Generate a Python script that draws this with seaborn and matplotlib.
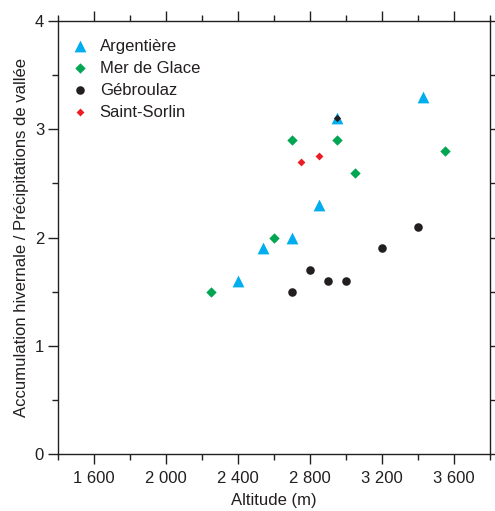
import matplotlib
matplotlib.use("Agg")
import matplotlib.pyplot as plt
import seaborn as sns
import pandas as pd
from matplotlib.ticker import MultipleLocator, FuncFormatter

sns.set_style("white")
plt.rcParams['font.family'] = ['Liberation Sans', 'DejaVu Sans']

# Data
arg_alt = [2400, 2540, 2700, 2850, 2950, 3430]
arg_val = [1.6, 1.9, 2.0, 2.3, 3.1, 3.3]
mdg_alt = [2250, 2600, 2700, 2950, 3050, 3550]
mdg_val = [1.5, 2.0, 2.9, 2.9, 2.6, 2.8]
geb_alt = [2700, 2800, 2900, 3000, 3200, 3400]
geb_val = [1.5, 1.7, 1.6, 1.6, 1.9, 2.1]
geb_overlap_alt = [2950]
geb_overlap_val = [3.1]
ss_alt = [2750, 2850]
ss_val = [2.7, 2.75]

series = [
    ("Argentière", arg_alt, arg_val, "^", "#00AEEF", 72),
    ("Mer de Glace", mdg_alt, mdg_val, "D", "#00A651", 28),
    ("Gébroulaz", geb_alt, geb_val, "o", "#231F20", 38),
    ("Saint-Sorlin", ss_alt, ss_val, "D", "#ED1C24", 16),
]

fig = plt.figure(figsize=(4.95, 5.11), dpi=100)
ax = fig.add_axes([58/495, 1-454/511, (490-58)/495, (454-21)/511])

for name, xs, ys, m, c, s in series:
    df = pd.DataFrame({"alt": xs, "val": ys})
    sns.scatterplot(data=df, x="alt", y="val", marker=m, color=c, s=s,
                    linewidth=0, ax=ax, label=name, zorder=3)
df_o = pd.DataFrame({"alt": geb_overlap_alt, "val": geb_overlap_val})
sns.scatterplot(data=df_o, x="alt", y="val", marker="D", color="#231F20", s=14,
                linewidth=0, ax=ax, zorder=4, legend=False)

ax.set_xlim(1400, 3800)
ax.set_ylim(0, 4)
ax.xaxis.set_major_locator(MultipleLocator(400))
ax.xaxis.set_minor_locator(MultipleLocator(200))
ax.yaxis.set_major_locator(MultipleLocator(1))
ax.yaxis.set_minor_locator(MultipleLocator(0.5))
ax.xaxis.set_major_formatter(FuncFormatter(lambda v, p: f"{int(v):,}".replace(",", " ")))
ax.set_xticks([1600, 2000, 2400, 2800, 3200, 3600])

for sp in ax.spines.values():
    sp.set_color("#231F20")
    sp.set_linewidth(1.0)

ax.tick_params(axis="x", which="major", direction="out", length=7, width=1,
               color="#231F20", labelsize=12, labelcolor="#231F20", top=True, bottom=True, pad=5)
ax.tick_params(axis="x", which="minor", direction="out", length=4.5, width=1,
               color="#231F20", top=True, bottom=True)
ax.tick_params(axis="y", which="major", direction="out", length=7, width=1,
               color="#231F20", labelsize=12, labelcolor="#231F20", left=True, pad=3)
ax.tick_params(axis="y", which="minor", direction="out", length=4.5, width=1,
               color="#231F20", left=True)
ax.tick_params(axis="y", which="both", right=True)

ax.set_xlabel("Altitude (m)", fontsize=12, color="#231F20", labelpad=5)
ax.set_ylabel("Accumulation hivernale / Précipitations de vallée", fontsize=12,
              color="#231F20", labelpad=4)

leg = ax.legend(loc="upper left", frameon=False, fontsize=12, handletextpad=0.6,
                labelspacing=0.42, borderaxespad=0.3, handlelength=1.2,
                bbox_to_anchor=(0.0, 0.986))
for t in leg.get_texts():
    t.set_color("#231F20")

fig.savefig("out.png", dpi=100)
